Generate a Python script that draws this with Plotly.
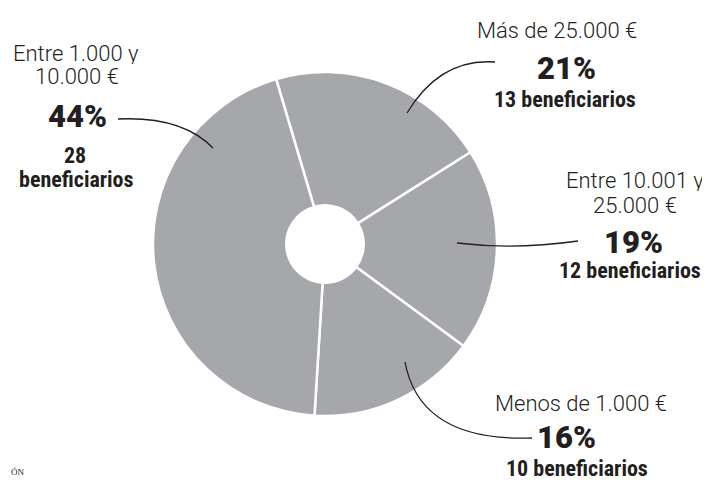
import plotly.graph_objects as go

# ---- data ----
categories = ["Más de 25.000 €", "Entre 10.001 y 25.000 €", "Menos de 1.000 €", "Entre 1.000 y 10.000 €"]
beneficiarios = [13, 12, 10, 28]
porcentajes = ["21%", "19%", "16%", "44%"]
label_lines = [["Más de 25.000 €"], ["Entre 10.001 y", "25.000 €"], ["Menos de 1.000 €"], ["Entre 1.000 y", "10.000 €"]]
count_lines = [["13 beneficiarios"], ["12 beneficiarios"], ["10 beneficiarios"], ["28", "beneficiarios"]]

W, H = 710, 480
OFF = 8  # page body margin
GRAY = "#a6a7ab"
INK = "#231f20"

def px(x):
    return (x - OFF) / W

def py(y):
    return 1 - (y - OFF) / H

fig = go.Figure(go.Pie(
    labels=categories,
    values=beneficiarios,
    sort=False,
    direction="clockwise",
    rotation=-16.5,
    hole=0.225,
    marker=dict(colors=[GRAY] * 4, line=dict(color="white", width=2.5)),
    textinfo="none",
    hoverinfo="label+value+percent",
    domain=dict(x=[px(153), px(497)], y=[py(416), py(72)]),
    showlegend=False,
))

# layout positions for the label blocks (screen pixel coords)
label_pos = [[(557, 30)], [(635, 180), (635, 205)], [(581, 403)], [(76, 53), (77, 76)]]
pct_pos = [(566, 68), (633, 242), (566, 437), (77, 117)]
count_pos = [[(565, 99)], [(630, 270)], [(577, 468)], [(75, 155), (76, 179)]]

LIGHT = dict(family="Roboto, Liberation Sans, sans-serif", size=22, color=INK, weight=300)
HEAVY = dict(family="Roboto, Liberation Sans, sans-serif", size=31, color=INK, weight=900)
COND = dict(family="Liberation Sans Narrow, Roboto Condensed, Liberation Sans, sans-serif", size=22, color=INK, weight="bold")

annotations = []
for i in range(len(categories)):
    for txt, (x, y) in zip(label_lines[i], label_pos[i]):
        annotations.append(dict(x=px(x), y=py(y), xref="paper", yref="paper", text=txt, height=22,
                                showarrow=False, xanchor="center", yanchor="middle", font=LIGHT))
    x, y = pct_pos[i]
    annotations.append(dict(x=px(x), y=py(y), xref="paper", yref="paper", text=porcentajes[i],
                            showarrow=False, xanchor="center", yanchor="middle", font=HEAVY))
    for txt, (x, y) in zip(count_lines[i], count_pos[i]):
        annotations.append(dict(x=px(x), y=py(y), xref="paper", yref="paper", text=txt, height=22,
                                showarrow=False, xanchor="center", yanchor="middle", font=COND))

annotations.append(dict(x=px(9), y=py(472), xref="paper", yref="paper", text="ÓN", showarrow=False,
                        xanchor="left", yanchor="middle",
                        font=dict(family="Liberation Serif, serif", size=9, color=INK)))

# curved leader lines (quadratic Bezier, screen pixel coords -> paper)
leaders = [
    [(495, 62), (440, 58), (407, 113)],
    [(578, 241), (515, 250), (457, 243)],
    [(532, 438), (420, 442), (405, 362)],
    [(118, 119), (182, 116), (213, 148)],
]
shapes = []
for (a, c, b) in leaders:
    path = "M {:.5f},{:.5f} Q {:.5f},{:.5f} {:.5f},{:.5f}".format(px(a[0]), py(a[1]), px(c[0]), py(c[1]), px(b[0]), py(b[1]))
    shapes.append(dict(type="path", path=path, xref="paper", yref="paper",
                       line=dict(color=INK, width=1.3)))

fig.update_layout(
    width=W, height=H,
    margin=dict(l=0, r=0, t=0, b=0),
    paper_bgcolor="white", plot_bgcolor="white",
    annotations=annotations,
    shapes=shapes,
)

fig.write_html("out.html")
